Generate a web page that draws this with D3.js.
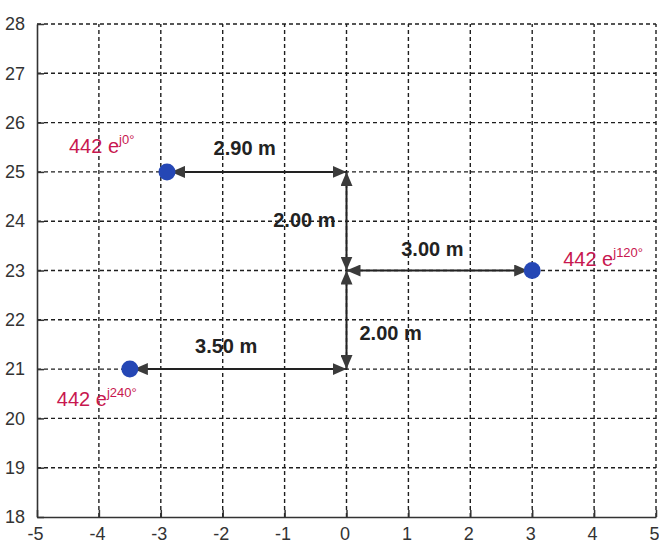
<!DOCTYPE html>
<html>
<head>
<meta charset="utf-8">
<title>Conductor spacing</title>
<script src="https://d3js.org/d3.v7.min.js"></script>
<style>
body { margin: 0; background: #fff; }
svg { display: block; }
text { font-family: "Liberation Sans", Arial, sans-serif; }
</style>
</head>
<body>
<div id="chart"></div>
<script>

// conductor positions (m) and phasors
var condX = [-2.9, 3, -3.5];
var condY = [25, 23, 21];
var magnitude = 442;
var phaseDeg = ["0", "120", "240"];

// dimension arrows: x1, y1, x2, y2 and text
var dimX1 = [-2.9, 0, 0, 0, -3.5];
var dimY1 = [25, 25, 23, 23, 21];
var dimX2 = [0, 0, 3, 0, 0];
var dimY2 = [25, 23, 23, 21, 21];
var dimText = ["2.90 m", "2.00 m", "3.00 m", "2.00 m", "3.50 m"];

var xTicks = [-5, -4, -3, -2, -1, 0, 1, 2, 3, 4, 5];
var yTicks = [18, 19, 20, 21, 22, 23, 24, 25, 26, 27, 28];

var width = 659, height = 544;

var x = d3.scaleLinear().domain([-5, 5]).range([37, 656]);
var y = d3.scaleLinear().domain([18, 28]).range([517, 24]);

var svg = d3.select("#chart").append("svg")
	.attr("width", width).attr("height", height);

svg.append("defs").append("marker")
	.attr("id", "head")
	.attr("viewBox", "0 0 14 12")
	.attr("refX", 14).attr("refY", 6)
	.attr("markerWidth", 14).attr("markerHeight", 12)
	.attr("markerUnits", "userSpaceOnUse")
	.attr("orient", "auto-start-reverse")
	.append("path")
	.attr("d", "M0,0 L14,6 L0,12 Z")
	.attr("fill", "#3b3b3b");

// grid
var grid = svg.append("g")
	.attr("stroke", "#1e1e1e").attr("stroke-width", 1.4)
	.attr("stroke-dasharray", "4,3");

grid.selectAll("line.gx").data(xTicks.slice(1)).enter().append("line")
	.attr("x1", function(d) { return x(d); })
	.attr("x2", function(d) { return x(d); })
	.attr("y1", y(18)).attr("y2", y(28));

grid.selectAll("line.gy").data(yTicks.slice(1)).enter().append("line")
	.attr("y1", function(d) { return y(d); })
	.attr("y2", function(d) { return y(d); })
	.attr("x1", x(-5)).attr("x2", x(5));

// axes
var fmt = function(d) { return String(d); };  // plain hyphen minus
var xAxis = d3.axisBottom(x).tickValues(xTicks).tickFormat(fmt)
	.tickSizeInner(-7).tickSizeOuter(0).tickPadding(10);
var yAxis = d3.axisLeft(y).tickValues(yTicks).tickFormat(fmt)
	.tickSizeInner(-7).tickSizeOuter(0).tickPadding(12);

var gx = svg.append("g").attr("transform", "translate(0," + y(18) + ")").call(xAxis);
var gy = svg.append("g").attr("transform", "translate(" + x(-5) + ",0)").call(yAxis);

[gx, gy].forEach(function(g) {
	g.select(".domain").attr("stroke", "#333").attr("stroke-width", 1.6);
	g.selectAll(".tick line").attr("stroke", "#333").attr("stroke-width", 1.5);
	g.selectAll(".tick text")
		.attr("fill", "#333")
		.style("font-size", "18px");
});
gx.selectAll(".tick text").attr("dx", -2);

// dimension arrows
function onConductor(px, py) {
	for (var k = 0; k < condX.length; k++)
		if (condX[k] === px && condY[k] === py) return true;
	return false;
}
for (var i = 0; i < dimText.length; i++) {
	var x1 = x(dimX1[i]), y1 = y(dimY1[i]), x2 = x(dimX2[i]), y2 = y(dimY2[i]);
	var len = Math.hypot(x2 - x1, y2 - y1), ux = (x2 - x1) / len, uy = (y2 - y1) / len;
	// pull back the end that sits on a conductor
	if (onConductor(dimX1[i], dimY1[i])) { x1 += ux * 4; y1 += uy * 4; }
	if (onConductor(dimX2[i], dimY2[i])) { x2 -= ux * 4; y2 -= uy * 4; }

	svg.append("line")
		.attr("x1", x1).attr("y1", y1).attr("x2", x2).attr("y2", y2)
		.attr("stroke", "#222").attr("stroke-width", 2)
		.attr("marker-start", "url(#head)")
		.attr("marker-end", "url(#head)");
}

// conductors
svg.selectAll("circle.cond").data(condX).enter().append("circle")
	.attr("cx", function(d) { return x(d); })
	.attr("cy", function(d, i) { return y(condY[i]); })
	.attr("r", 8.5)
	.attr("fill", "#2547b5");

// dimension labels, pixel offsets from the arrow's midpoint
var dimDx = [-12, -11, -7, 13, -12];
var dimDy = [-17, 6, -15, 20, -16];
var dimAnchor = ["middle", "end", "middle", "start", "middle"];
for (var i = 0; i < dimText.length; i++) {
	var mx = (x(dimX1[i]) + x(dimX2[i])) / 2;
	var my = (y(dimY1[i]) + y(dimY2[i])) / 2;
	svg.append("text")
		.attr("x", mx + dimDx[i])
		.attr("y", my + dimDy[i])
		.attr("text-anchor", dimAnchor[i])
		.attr("fill", "#222")
		.style("font-size", "20px")
		.style("font-weight", "bold")
		.text(dimText[i]);
}

// phasor labels, pixel offsets from the conductor
var labDx = [-98, 31, -73];
var labDy = [-19, -5, 37];
for (var i = 0; i < condX.length; i++) {
	var t = svg.append("text")
		.attr("x", x(condX[i]) + labDx[i])
		.attr("y", y(condY[i]) + labDy[i])
		.attr("fill", "#c8174f")
		.style("font-size", "20px");
	t.append("tspan").text(magnitude + " e");
	t.append("tspan")
		.attr("dy", -9)
		.style("font-size", "13px")
		.text("j" + phaseDeg[i] + "°");
}

</script>
</body>
</html>
